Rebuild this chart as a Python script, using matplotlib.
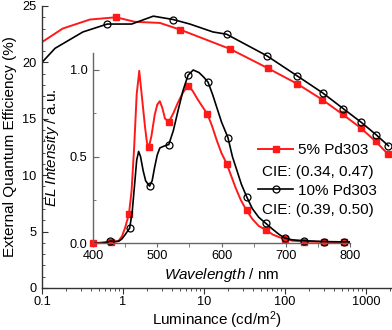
import matplotlib
matplotlib.use("Agg")
import matplotlib.pyplot as plt
from matplotlib.ticker import MultipleLocator, LogLocator, NullFormatter
from matplotlib.lines import Line2D
import numpy as np

plt.rcParams['font.family'] = ['Liberation Sans', 'DejaVu Sans']
plt.rcParams['mathtext.fontset'] = 'custom'
plt.rcParams['mathtext.rm'] = 'Liberation Sans'
plt.rcParams['mathtext.it'] = 'Liberation Sans:italic'
plt.rcParams['mathtext.bf'] = 'Liberation Sans:bold'

# ---- Main plot: EQE vs luminance ----
red_L = [0.1, 0.18, 0.39, 0.82, 1.4, 2.85, 5.1, 20.9, 61, 142, 289, 515, 859, 1318, 1854]
red_eqe = [21.8, 23.0, 23.8, 24.0, 23.6, 23.5, 22.9, 21.2, 19.5, 18.1, 16.7, 15.4, 14.2, 13.0, 11.9]
red_mk_L = [0.82, 5.1, 20.9, 61, 142, 289, 515, 859, 1318, 1854]
red_mk_eqe = [24.0, 22.9, 21.2, 19.5, 18.1, 16.7, 15.4, 14.2, 13.0, 11.9]

blk_L = [0.1, 0.145, 0.32, 0.64, 1.28, 2.37, 4.17, 6.7, 12.9, 19, 59.4, 142, 292, 525, 871, 1330, 1900]
blk_eqe = [20.0, 21.25, 22.7, 23.4, 23.4, 24.1, 23.8, 23.4, 22.7, 22.5, 20.6, 18.8, 17.3, 15.9, 14.7, 13.6, 12.6]
blk_mk_L = [0.64, 4.17, 19, 59.4, 142, 292, 525, 871, 1330, 1900]
blk_mk_eqe = [23.4, 23.8, 22.5, 20.6, 18.8, 17.3, 15.9, 14.7, 13.6, 12.6]

# ---- Inset: EL spectra ----
red_wl = [400, 410, 420, 428, 435, 440, 445, 450, 456, 460, 464, 468, 472, 476, 481, 484, 487,
          491, 496, 500, 504, 508, 512, 518, 525, 532, 540, 548, 555, 563, 570, 578, 585, 593,
          600, 608, 615, 622, 630, 639, 648, 658, 669, 680, 690, 699, 710, 729, 760, 790, 800]
red_el = [0.0, 0.003, 0.008, 0.01, 0.01, 0.015, 0.04, 0.09, 0.17, 0.30, 0.55, 0.86, 0.995, 0.85, 0.67,
          0.58, 0.555, 0.62, 0.74, 0.80, 0.82, 0.78, 0.72, 0.70, 0.75, 0.81, 0.87, 0.91, 0.88, 0.83,
          0.79, 0.746, 0.68, 0.59, 0.52, 0.46, 0.39, 0.32, 0.25, 0.19, 0.14, 0.10, 0.077, 0.05,
          0.035, 0.025, 0.015, 0.01, 0.008, 0.005, 0.005]
red_mk_wl = [400, 428, 456, 487, 518, 548, 578, 608, 639, 669, 699, 729, 760, 790]
red_mk_el = [0.0, 0.01, 0.17, 0.555, 0.70, 0.91, 0.746, 0.46, 0.19, 0.077, 0.025, 0.01, 0.008, 0.005]

blk_wl = [400, 410, 420, 427, 435, 440, 445, 450, 457, 461, 465, 468, 471, 474, 478, 482, 488,
          492, 496, 500, 504, 510, 518, 525, 532, 540, 548, 556, 565, 572, 579, 586, 593, 600,
          610, 617, 624, 631, 639, 648, 658, 669, 680, 690, 699, 710, 729, 760, 790, 800]
blk_el = [0.0, 0.0, 0.003, 0.013, 0.01, 0.012, 0.025, 0.05, 0.087, 0.18, 0.35, 0.48, 0.53, 0.50,
          0.42, 0.36, 0.33, 0.36, 0.44, 0.51, 0.55, 0.56, 0.57, 0.65, 0.76, 0.88, 0.97, 1.0, 0.985,
          0.96, 0.93, 0.86, 0.78, 0.70, 0.61, 0.50, 0.42, 0.34, 0.27, 0.20, 0.15, 0.115, 0.08,
          0.05, 0.03, 0.02, 0.015, 0.01, 0.008, 0.008]
blk_mk_wl = [427, 457, 488, 518, 548, 579, 610, 639, 669, 699, 729, 760, 790]
blk_mk_el = [0.013, 0.087, 0.33, 0.57, 0.97, 0.93, 0.61, 0.27, 0.115, 0.03, 0.015, 0.01, 0.008]

series_labels = ["5% Pd303", "10% Pd303"]
cie_labels = ["CIE: (0.34, 0.47)", "CIE: (0.39, 0.50)"]

RED = '#ff1a1a'
BLK = '#000000'

W, H = 392, 330
fig = plt.figure(figsize=(W / 100, H / 100), dpi=100)

ax = fig.add_axes([42 / W, 1 - 288 / H, 1 - 42 / W, (288 - 6) / H])
ax.plot(red_L, red_eqe, color=RED, lw=1.4)
ax.plot(red_mk_L, red_mk_eqe, ls='none', marker='s', ms=5, color=RED, clip_on=False)
ax.plot(blk_L, blk_eqe, color=BLK, lw=1.2)
ax.plot(blk_mk_L, blk_mk_eqe, ls='none', marker='o', ms=5, mfc='none', mec=BLK, mew=0.9, clip_on=False)
ax.set_xscale('log')
ax.set_ylim(0, 25)
ax.yaxis.set_major_locator(MultipleLocator(5))
ax.yaxis.set_minor_locator(MultipleLocator(1))
ax.xaxis.set_minor_locator(LogLocator(base=10, subs=np.arange(2, 10), numticks=20))
ax.xaxis.set_minor_formatter(NullFormatter())
ax.set_xticks([0.1, 1, 10, 100, 1000])
ax.set_xticklabels(['0.1', '1', '10', '100', '1000'])
ax.set_xlim(0.1, 2100)
for s in ['top', 'right']:
    ax.spines[s].set_visible(False)
for s in ['left', 'bottom']:
    ax.spines[s].set_color('#333333')
    ax.spines[s].set_linewidth(1.0)
ax.tick_params(axis='y', which='both', direction='in', labelsize=9.2, colors='#333333', labelcolor='black')
ax.tick_params(axis='y', which='major', length=4.5, pad=4)
ax.tick_params(axis='y', which='minor', length=2.5)
ax.tick_params(axis='x', which='both', direction='out', labelsize=9.2, colors='#333333', labelcolor='black')
ax.tick_params(axis='x', which='major', length=4, pad=2)
ax.tick_params(axis='x', which='minor', length=2)
ax.set_xlabel('Luminance (cd/m$^2$)', fontsize=11, labelpad=1)
ax.set_ylabel('External Quantum Efficiency (%)', fontsize=11, labelpad=4)

# inset
axi = fig.add_axes([93 / W, 1 - 243.3 / H, (350 - 93) / W, (243.3 - 53) / H])
axi.patch.set_alpha(0)
axi.plot(red_wl, red_el, color=RED, lw=1.4)
axi.plot(red_mk_wl, red_mk_el, ls='none', marker='s', ms=5, color=RED, clip_on=False)
axi.plot(blk_wl, blk_el, color=BLK, lw=1.2)
axi.plot(blk_mk_wl, blk_mk_el, ls='none', marker='o', ms=5, mfc='none', mec=BLK, mew=0.9, clip_on=False)
axi.set_xlim(400, 800)
axi.set_ylim(0.0, 1.098)
axi.set_xticks([400, 500, 600, 700, 800])
axi.xaxis.set_minor_locator(MultipleLocator(50))
axi.set_yticks([0.0, 0.5, 1.0])
axi.set_yticklabels(['0.0', '0.5', '1.0'])
axi.yaxis.set_minor_locator(MultipleLocator(0.25))
for s in ['top', 'right']:
    axi.spines[s].set_visible(False)
for s in ['left', 'bottom']:
    axi.spines[s].set_color('#666666')
    axi.spines[s].set_linewidth(1.0)
axi.tick_params(axis='y', which='both', direction='in', labelsize=9.2, colors='#666666', labelcolor='black')
axi.tick_params(axis='y', which='major', length=4, pad=4)
axi.tick_params(axis='y', which='minor', length=2.5)
axi.tick_params(axis='x', which='both', direction='out', labelsize=9.2, colors='#666666', labelcolor='black')
axi.tick_params(axis='x', which='major', length=3, pad=2)
axi.tick_params(axis='x', which='minor', length=3)
axi.set_xlabel('$\\mathit{Wavelength}$ / nm', fontsize=11, labelpad=3)
axi.set_ylabel('$\\mathit{EL\\ Intensity}$ / a.u.', fontsize=11, labelpad=6)

handles = [Line2D([], [], color=RED, lw=1.4, marker='s', ms=5),
           Line2D([], [], color=BLK, lw=1.2, marker='o', ms=5, mfc='none', mew=0.9)]
leg = fig.legend(handles, series_labels, loc='upper left', bbox_to_anchor=(258 / W, 1 - 143 / H),
                 frameon=False, fontsize=11, handlelength=2.3, handletextpad=0.3,
                 labelspacing=1.75, borderpad=0, borderaxespad=0)
fig.text(262 / W, 1 - 172 / H, cie_labels[0], fontsize=11, va='center', ha='left')
fig.text(262 / W, 1 - 210 / H, cie_labels[1], fontsize=11, va='center', ha='left')

fig.savefig('out.png', dpi=100)
